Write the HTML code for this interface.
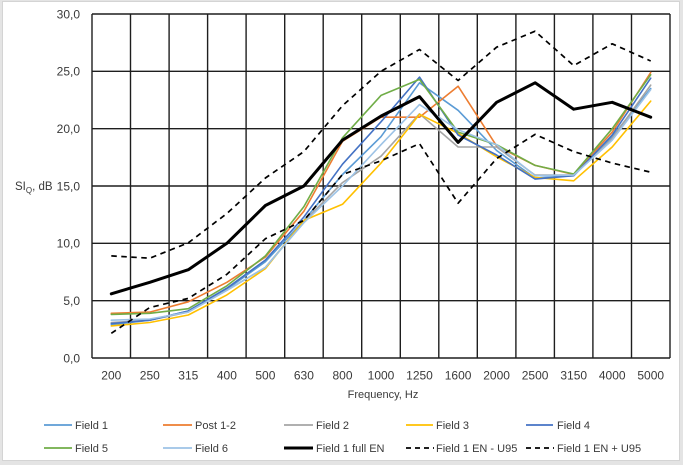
<!DOCTYPE html>
<html>
<head>
<meta charset="utf-8">
<style>
html,body{margin:0;padding:0;}
body{width:683px;height:465px;background:#e4e4e4;overflow:hidden;position:relative;}
#box{position:absolute;left:2px;top:1px;width:676px;height:458px;background:#fff;border:1px solid #d4d4d4;}
svg{position:absolute;left:0;top:0;}
text{font-family:"Liberation Sans",Arial,sans-serif;fill:#3a3a3a;}
</style>
</head>
<body>
<div id="box"></div>
<svg width="683" height="465" viewBox="0 0 683 465" xmlns="http://www.w3.org/2000/svg">
<!-- grid -->
<g stroke="#1e1e1e" stroke-width="1.4" fill="none">
<line x1="92" y1="14" x2="670" y2="14"/>
<line x1="92" y1="71.3" x2="670" y2="71.3"/>
<line x1="92" y1="128.7" x2="670" y2="128.7"/>
<line x1="92" y1="186" x2="670" y2="186"/>
<line x1="92" y1="243.3" x2="670" y2="243.3"/>
<line x1="92" y1="300.7" x2="670" y2="300.7"/>
<line x1="92" y1="358" x2="670" y2="358"/>
<line x1="92" y1="14" x2="92" y2="358"/>
<line x1="130.5" y1="14" x2="130.5" y2="358"/>
<line x1="169.1" y1="14" x2="169.1" y2="358"/>
<line x1="207.6" y1="14" x2="207.6" y2="358"/>
<line x1="246.1" y1="14" x2="246.1" y2="358"/>
<line x1="284.7" y1="14" x2="284.7" y2="358"/>
<line x1="323.2" y1="14" x2="323.2" y2="358"/>
<line x1="361.7" y1="14" x2="361.7" y2="358"/>
<line x1="400.3" y1="14" x2="400.3" y2="358"/>
<line x1="438.8" y1="14" x2="438.8" y2="358"/>
<line x1="477.3" y1="14" x2="477.3" y2="358"/>
<line x1="515.9" y1="14" x2="515.9" y2="358"/>
<line x1="554.4" y1="14" x2="554.4" y2="358"/>
<line x1="592.9" y1="14" x2="592.9" y2="358"/>
<line x1="631.5" y1="14" x2="631.5" y2="358"/>
<line x1="670" y1="14" x2="670" y2="358"/>
</g>

<!-- series -->
<g fill="none" stroke-linejoin="round" stroke-linecap="round">
<!-- Field 1 -->
<polyline stroke="#5B9BD5" stroke-width="1.6" points="111.3,324.7 149.8,320.2 188.3,311 226.9,289.2 265.4,261.7 303.9,220.4 342.5,174.5 381,136.7 419.5,82.8 458.1,110.3 496.6,150.5 535.1,178 573.7,175.7 612.2,136.7 650.7,88.5"/>
<!-- Post 1-2 -->
<polyline stroke="#ED7D31" stroke-width="1.6" points="111.3,313.3 149.8,312.1 188.3,301.8 226.9,282.3 265.4,257.1 303.9,211.2 342.5,141.3 381,117.2 419.5,117.2 458.1,86.2 496.6,145.9 535.1,165.4 573.7,174.5 612.2,132.1 650.7,72.5"/>
<!-- Field 2 -->
<polyline stroke="#A5A5A5" stroke-width="1.6" points="111.3,322.5 149.8,320.2 188.3,312.1 226.9,290.3 265.4,267.4 303.9,221.5 342.5,182.6 381,156.2 419.5,113.8 458.1,147 496.6,147 535.1,175.1 573.7,175.1 612.2,138.4 650.7,85.1"/>
<!-- Field 3 -->
<polyline stroke="#FFC000" stroke-width="1.6" points="111.3,325.9 149.8,322.5 188.3,315 226.9,294.9 265.4,268.6 303.9,220.4 342.5,204.3 381,163.1 419.5,114.3 458.1,133.3 496.6,156.8 535.1,177.4 573.7,180.8 612.2,147 650.7,101.1"/>
<!-- Field 4 -->
<polyline stroke="#4472C4" stroke-width="1.6" points="111.3,323.6 149.8,320.2 188.3,311 226.9,288.1 265.4,260 303.9,217 342.5,164.2 381,121.8 419.5,77.1 458.1,135 496.6,155 535.1,179.1 573.7,175.7 612.2,135 650.7,78.2"/>
<!-- Field 5 -->
<polyline stroke="#70AD47" stroke-width="1.6" points="111.3,314.4 149.8,313.3 188.3,308.7 226.9,285.8 265.4,255.9 303.9,206.6 342.5,137.8 381,95.4 419.5,79.4 458.1,132.1 496.6,144.7 535.1,165.4 573.7,174 612.2,128.7 650.7,74.8"/>
<!-- Field 6 -->
<polyline stroke="#9DC3E6" stroke-width="1.6" points="111.3,320.2 149.8,319 188.3,312.1 226.9,290.3 265.4,267.4 303.9,222.7 342.5,186 381,144.7 419.5,104.6 458.1,129.8 496.6,144.7 535.1,175.7 573.7,175.1 612.2,140.1 650.7,89.7"/>
<!-- Field 1 full EN -->
<polyline stroke="#000" stroke-width="3" points="111.3,293.8 149.8,282.3 188.3,269.7 226.9,243.3 265.4,205.5 303.9,186 342.5,140.1 381,116.1 419.5,96.6 458.1,142.4 496.6,102.3 535.1,82.8 573.7,109.2 612.2,102.3 650.7,117.2"/>
<!-- Field 1 EN - U95 -->
<polyline stroke="#000" stroke-width="1.7" stroke-dasharray="5.5,4.5" stroke-linecap="butt" points="111.3,333.3 149.8,307.5 188.3,298.4 226.9,274.3 265.4,238.7 303.9,220.4 342.5,174.5 381,160.8 419.5,143.6 458.1,203.2 496.6,158.5 535.1,134.4 573.7,151.6 612.2,163.1 650.7,172.2"/>
<!-- Field 1 EN + U95 -->
<polyline stroke="#000" stroke-width="1.7" stroke-dasharray="5.5,4.5" stroke-linecap="butt" points="111.3,255.9 149.8,258.2 188.3,242.8 226.9,213.5 265.4,178 303.9,151.6 342.5,105.7 381,71.3 419.5,49.5 458.1,80.5 496.6,47.2 535.1,31.2 573.7,65.6 612.2,43.8 650.7,61"/>
</g>

<!-- y tick labels -->
<g font-size="12" text-anchor="end">
<text x="80" y="18.3">30,0</text>
<text x="80" y="75.6">25,0</text>
<text x="80" y="133">20,0</text>
<text x="80" y="190.3">15,0</text>
<text x="80" y="247.6">10,0</text>
<text x="80" y="305">5,0</text>
<text x="80" y="362.3">0,0</text>
</g>
<text x="15" y="190" font-size="11.5">SI<tspan font-size="8" dy="3">Q</tspan><tspan dy="-3">, dB</tspan></text>

<!-- x tick labels -->
<g font-size="12" text-anchor="middle">
<text x="111.3" y="379.5">200</text>
<text x="149.8" y="379.5">250</text>
<text x="188.3" y="379.5">315</text>
<text x="226.9" y="379.5">400</text>
<text x="265.4" y="379.5">500</text>
<text x="303.9" y="379.5">630</text>
<text x="342.5" y="379.5">800</text>
<text x="381" y="379.5">1000</text>
<text x="419.5" y="379.5">1250</text>
<text x="458.1" y="379.5">1600</text>
<text x="496.6" y="379.5">2000</text>
<text x="535.1" y="379.5">2500</text>
<text x="573.7" y="379.5">3150</text>
<text x="612.2" y="379.5">4000</text>
<text x="650.7" y="379.5">5000</text>
</g>
<text x="383" y="398" font-size="11" text-anchor="middle">Frequency, Hz</text>

<!-- legend -->
<g fill="none" stroke-linecap="butt">
<line x1="44" y1="425" x2="72" y2="425" stroke="#5B9BD5" stroke-width="1.8"/>
<line x1="163" y1="425" x2="192" y2="425" stroke="#ED7D31" stroke-width="1.8"/>
<line x1="284" y1="425" x2="313" y2="425" stroke="#A5A5A5" stroke-width="1.8"/>
<line x1="406" y1="425" x2="433" y2="425" stroke="#FFC000" stroke-width="1.8"/>
<line x1="526" y1="425" x2="553" y2="425" stroke="#4472C4" stroke-width="1.8"/>
<line x1="44" y1="448" x2="72" y2="448" stroke="#70AD47" stroke-width="1.8"/>
<line x1="163" y1="448" x2="192" y2="448" stroke="#9DC3E6" stroke-width="1.8"/>
<line x1="284" y1="448" x2="313" y2="448" stroke="#000" stroke-width="3"/>
<line x1="406" y1="448" x2="434" y2="448" stroke="#000" stroke-width="1.7" stroke-dasharray="5,4"/>
<line x1="526" y1="448" x2="554" y2="448" stroke="#000" stroke-width="1.7" stroke-dasharray="5,4"/>
</g>
<g font-size="11">
<text x="75" y="429">Field 1</text>
<text x="195" y="429">Post 1-2</text>
<text x="316" y="429">Field 2</text>
<text x="436" y="429">Field 3</text>
<text x="557" y="429">Field 4</text>
<text x="75" y="452">Field 5</text>
<text x="195" y="452">Field 6</text>
<text x="316" y="452">Field 1 full EN</text>
<text x="436" y="452">Field 1 EN - U95</text>
<text x="557" y="452">Field 1 EN + U95</text>
</g>
</svg>
</body>
</html>
